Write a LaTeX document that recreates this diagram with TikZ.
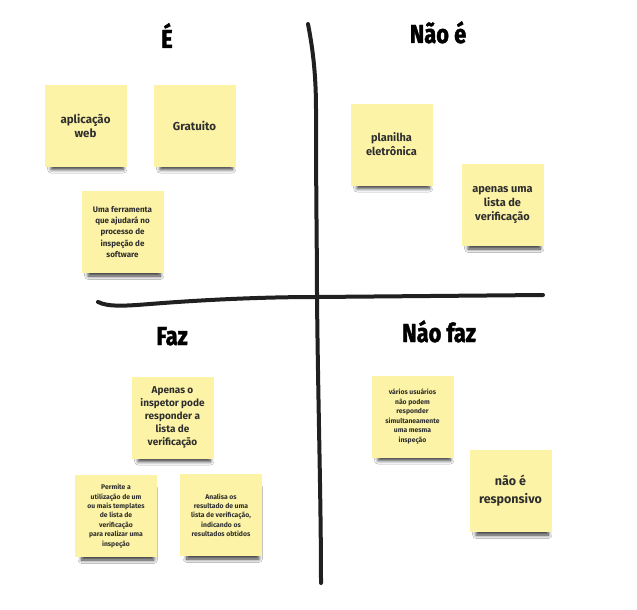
\documentclass[tikz,border=0pt]{standalone}
\usepackage{fontspec}
\setmainfont{Fira Sans}
\newfontfamily\titlefont[FakeStretch=0.84,FakeBold=1.6]{Fira Sans}
\usetikzlibrary{shadows.blur}
\definecolor{notefill}{HTML}{FCF3A6}
\definecolor{notetext}{HTML}{2E2E2E}
\definecolor{pen}{HTML}{202020}
\tikzset{
  note/.style={fill=notefill, draw=none, minimum width=82pt, minimum height=82pt,
    align=center, text=notetext, inner sep=2pt,
    blur shadow={shadow xshift=2pt, shadow yshift=-9pt, shadow opacity=80,
      shadow blur steps=6, shadow blur radius=4pt, shadow scale=0.88}},
  title/.style={anchor=base, font=\titlefont\bfseries\fontsize{26}{28}\selectfont, text=black},
  divider/.style={line width=4pt, draw=pen, line cap=round},
}
\newcommand{\fs}[2]{\bfseries\fontsize{#1}{#2}\selectfont}
\begin{document}
\begin{tikzpicture}[x=1pt, y=-1pt]
  \useasboundingbox[fill=white] (0,0) rectangle (637,610);

  % quadrant dividers
  \coordinate (vtop) at (308,24);
  \coordinate (vmid) at (317,297);
  \coordinate (vbot) at (321,583);
  \coordinate (hleft) at (98,302);
  \coordinate (hright) at (543,295);
  \draw[divider] (vtop) .. controls (312,45) and (316,70) .. (316,110)
    .. controls (316,200) and (317,250) .. (vmid)
    .. controls (318,400) and (321,500) .. (vbot);
  \draw[divider] (hleft) .. controls (108,307) and (125,306) .. (150,304)
    .. controls (200,300) and (260,297) .. (vmid) -- (hright);

  % quadrant titles
  \node[title] (te) at (167,48) {É};
  \node[title] (tne) at (438,43) {Não é};
  \node[title] (tfaz) at (172,345) {Faz};
  \node[title] (tnfaz) at (439,342) {Náo faz};

  % top-left: what it is
  \node[note, font=\fs{11.5}{14}] (web) at (85.5,125.5) {aplicação\\web};
  \node[note, font=\fs{11.5}{14}] (free) at (194.5,125.5) {Gratuito};
  \node[note, font=\fs{8}{11.3}] (tool) at (122.5,232) {Uma ferramenta\\que ajudará no\\processo de\\inspeção de\\software};

  % top-right: what it is not
  \node[note, font=\fs{11}{14}] (sheet) at (391.5,144.5) {planilha\\eletrônica};
  \node[note, font=\fs{11}{14}] (list) at (502.5,205) {apenas uma\\lista de\\verificação};

  % bottom-left: what it does
  \node[note, font=\fs{10}{13}] (insp) at (172.5,417.5) {Apenas o\\inspetor pode\\responder a\\lista de\\verificação};
  \node[note, font=\fs{6.8}{9.4}] (tmpl) at (116,516) {Permite a\\utilização de um\\ou mais templates\\de lista de\\verificação\\para realizar uma\\inspeção};
  \node[note, font=\fs{6.8}{9.3}] (anal) at (221,515) {Analisa os\\resultado de uma\\lista de verificação,\\indicando os\\resultados obtidos};

  % bottom-right: what it does not do
  \node[note, font=\fs{6.8}{9.5}] (multi) at (412.5,416.5) {vários usuários\\não podem\\responder\\simultaneamente\\uma mesma\\inspeção};
  \node[note, font=\fs{12.5}{18}] (resp) at (510.5,491) {não é\\responsivo};
\end{tikzpicture}
\end{document}
